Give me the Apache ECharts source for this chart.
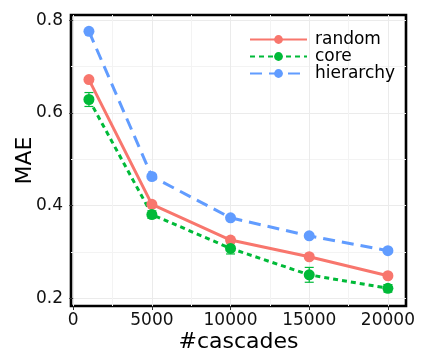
<!DOCTYPE html>
<html>
<head>
<meta charset="utf-8">
<script src="https://cdn.jsdelivr.net/npm/echarts@6/dist/echarts.min.js"></script>
<style>
html,body{margin:0;padding:0;background:#fff;}
#chart{width:421px;height:352px;}
</style>
</head>
<body>
<div id="chart"></div>
<script>
// ---- data ----
const cascades = [1000, 5000, 10000, 15000, 20000];
const randomMAE = [0.672, 0.403, 0.326, 0.290, 0.249];
const coreMAE = [0.629, 0.381, 0.308, 0.251, 0.222];
const coreErr = [0.015, 0.008, 0.012, 0.016, 0.008];
const hierarchyMAE = [0.776, 0.463, 0.374, 0.335, 0.303];
const seriesNames = ['random', 'core', 'hierarchy'];
const xTicks = [0, 5000, 10000, 15000, 20000];
const xMinorTicks = [2500, 7500, 12500, 17500];
const yTicks = [0.2, 0.4, 0.6, 0.8];
const yMinorTicks = [0.3, 0.5, 0.7];

const colors = ['#F8766D', '#00BA38', '#619CFF'];
const FONT = 'DejaVu Sans';
const X_MIN = -140, X_MAX = 21150;
const Y_MIN = 0.1838, Y_MAX = 0.8112;

const pairs = (xs, ys) => xs.map((x, i) => [x, ys[i]]);

const chart = echarts.init(document.getElementById('chart'), null, {renderer: 'canvas'});
const option = {
  backgroundColor: '#ffffff',
  animation: false,
  grid: {
    left: 71, top: 15, right: 15, bottom: 46,
    outerBoundsMode: 'none', containLabel: false,
    show: true, borderColor: '#000', borderWidth: 2.6, backgroundColor: 'transparent'
  },
  legend: {
    data: seriesNames,
    orient: 'vertical',
    left: 249, top: 31, padding: 0,
    itemWidth: 57, itemHeight: 11, itemGap: 0,
    textStyle: {fontFamily: FONT, fontSize: 17, lineHeight: 17, color: '#000', padding: [0, 0, 0, 3]}
  },
  xAxis: [{
    type: 'value', min: X_MIN, max: X_MAX,
    name: '#cascades', nameLocation: 'middle', nameGap: 25, nameMoveOverlap: false,
    nameTextStyle: {fontFamily: FONT, fontSize: 22, color: '#000'},
    axisLine: {show: false},
    axisTick: {show: true, length: 4, customValues: xTicks, lineStyle: {color: '#333', width: 1}},
    axisLabel: {customValues: xTicks, margin: 6, fontFamily: FONT, fontSize: 17, color: '#111',
      formatter: v => String(v)},
    splitLine: {show: true, lineStyle: {color: '#ebebeb', width: 1}}
  }, {
    type: 'value', min: X_MIN, max: X_MAX, position: 'bottom',
    axisLine: {show: false},
    axisTick: {show: false, customValues: xMinorTicks},
    axisLabel: {show: false, customValues: xMinorTicks},
    splitLine: {show: true, lineStyle: {color: '#f3f3f3', width: 1}}
  }],
  yAxis: [{
    type: 'value', min: Y_MIN, max: Y_MAX,
    name: 'MAE', nameLocation: 'middle', nameGap: 35, nameRotate: 90, nameMoveOverlap: false,
    nameTextStyle: {fontFamily: FONT, fontSize: 22, color: '#000'},
    axisLine: {show: false},
    axisTick: {show: true, length: 4, customValues: yTicks, lineStyle: {color: '#333', width: 1}},
    axisLabel: {customValues: yTicks, margin: 8, fontFamily: FONT, fontSize: 17, color: '#111',
      formatter: v => v.toFixed(1)},
    splitLine: {show: true, lineStyle: {color: '#ebebeb', width: 1}}
  }, {
    type: 'value', min: Y_MIN, max: Y_MAX, position: 'left',
    axisLine: {show: false},
    axisTick: {show: false, customValues: yMinorTicks},
    axisLabel: {show: false, customValues: yMinorTicks},
    splitLine: {show: true, lineStyle: {color: '#f3f3f3', width: 1}}
  }],
  series: [
    {
      name: 'core-err', type: 'custom', xAxisIndex: 0, yAxisIndex: 0, silent: true, z: 2,
      data: cascades.map((x, i) => [x, coreMAE[i] - coreErr[i], coreMAE[i] + coreErr[i]]),
      renderItem: (params, api) => {
        const lo = api.coord([api.value(0), api.value(1)]);
        const hi = api.coord([api.value(0), api.value(2)]);
        const w = 4.5;
        const st = {stroke: colors[1], lineWidth: 1.2};
        return {type: 'group', children: [
          {type: 'line', shape: {x1: lo[0], y1: lo[1], x2: hi[0], y2: hi[1]}, style: st},
          {type: 'line', shape: {x1: lo[0] - w, y1: lo[1], x2: lo[0] + w, y2: lo[1]}, style: st},
          {type: 'line', shape: {x1: hi[0] - w, y1: hi[1], x2: hi[0] + w, y2: hi[1]}, style: st}
        ]};
      }
    },
    {
      name: 'random', type: 'line', data: pairs(cascades, randomMAE),
      symbol: 'circle', symbolSize: 11, z: 3,
      itemStyle: {color: colors[0]},
      lineStyle: {color: colors[0], width: 3, type: 'solid'}
    },
    {
      name: 'core', type: 'line', data: pairs(cascades, coreMAE),
      symbol: 'circle', symbolSize: 11, z: 3,
      itemStyle: {color: colors[1]},
      lineStyle: {color: colors[1], width: 3, type: [5, 4]}
    },
    {
      name: 'hierarchy', type: 'line', data: pairs(cascades, hierarchyMAE),
      symbol: 'circle', symbolSize: 11, z: 3,
      itemStyle: {color: colors[2]},
      lineStyle: {color: colors[2], width: 3, type: [12, 7]}
    }
  ]
};
chart.setOption(option);
</script>
</body>
</html>
